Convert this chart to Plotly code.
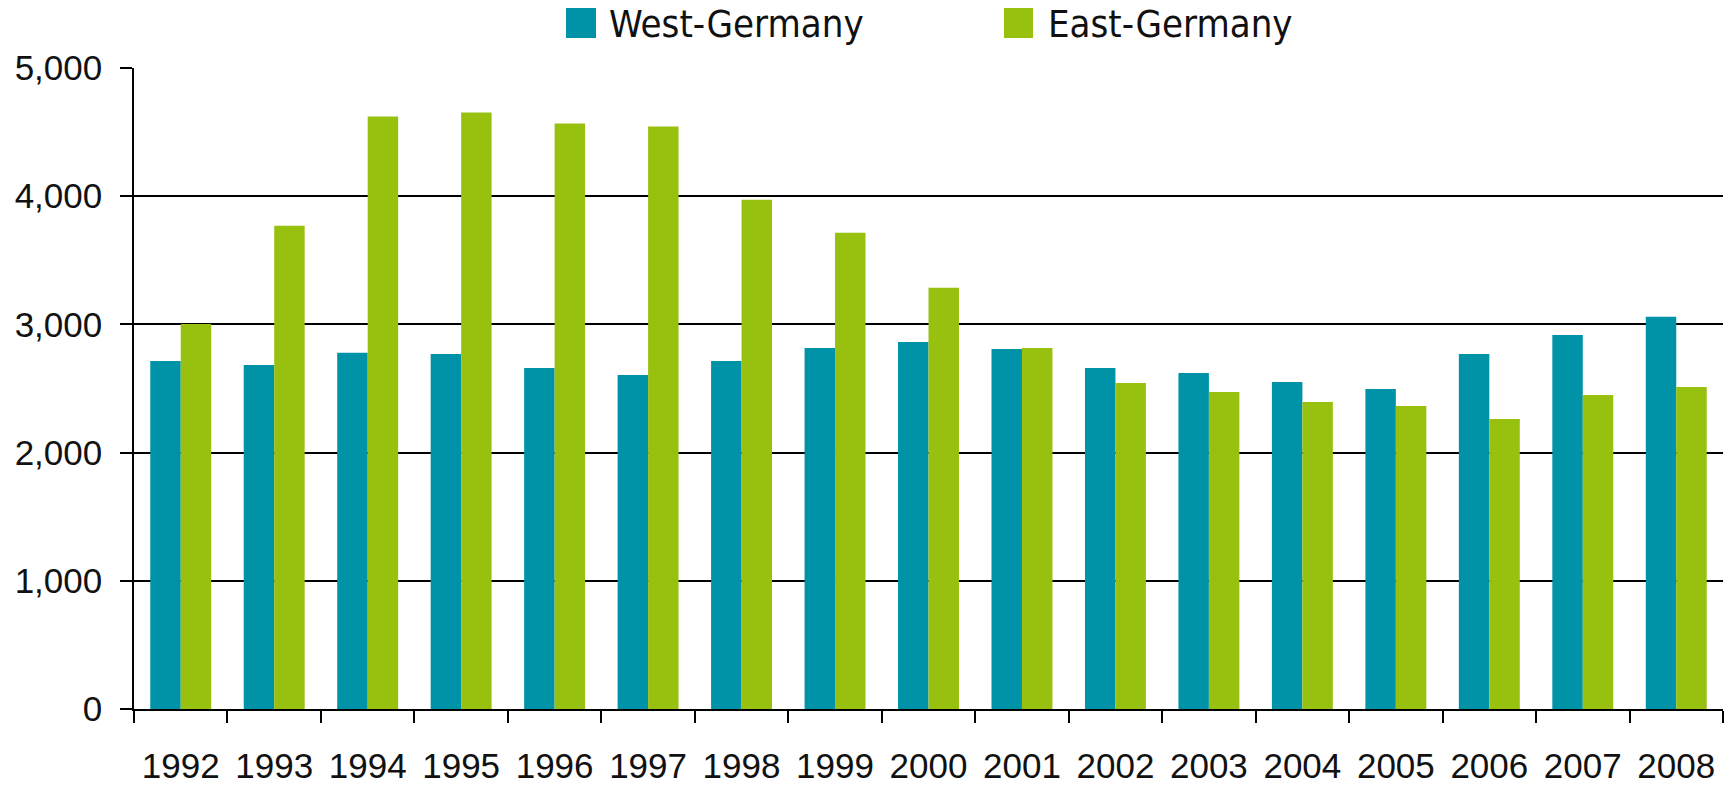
import plotly.graph_objects as go

years = ["1992", "1993", "1994", "1995", "1996", "1997", "1998", "1999", "2000",
         "2001", "2002", "2003", "2004", "2005", "2006", "2007", "2008"]
west_germany = [2715, 2684, 2778, 2770, 2660, 2605, 2715, 2816, 2863,
                2809, 2660, 2621, 2551, 2496, 2770, 2918, 3059]
east_germany = [3004, 3770, 4621, 4653, 4567, 4543, 3973, 3715, 3285,
                2816, 2543, 2473, 2395, 2363, 2262, 2449, 2512]
y_ticks = [0, 1000, 2000, 3000, 4000, 5000]
y_tick_labels = ["0", "1,000", "2,000", "3,000", "4,000", "5,000"]
series_names = ["West-Germany", "East-Germany"]

TEAL = "#0093A7"
GREEN = "#98C00F"
TICK_FONT = dict(family="Liberation Sans Narrow, Liberation Sans, Arial, sans-serif",
                 size=35, color="#111111")
LEGEND_FONT = dict(family="DejaVu Sans Condensed, DejaVu Sans, sans-serif", size=38, color="#111111")

fig = go.Figure()
fig.add_trace(go.Bar(x=years, y=west_germany, name=series_names[0],
                     marker=dict(color=TEAL, line=dict(width=0)), showlegend=False))
fig.add_trace(go.Bar(x=years, y=east_germany, name=series_names[1],
                     marker=dict(color=GREEN, line=dict(width=0)), showlegend=False))

W, H = 1725, 788
L, R, T, B = 134, 2, 68, 79
pw, ph = W - L - R, H - T - B

def px_x(x):
    return (x - L) / pw

def px_y(y):
    return (H - B - y) / ph

# manual legend (large square swatches)
legend_items = [(series_names[0], TEAL, 566, 596, 607), (series_names[1], GREEN, 1004, 1033, 1046)]
for name, col, x0, x1, tx in legend_items:
    fig.add_shape(type="rect", xref="paper", yref="paper",
                  x0=px_x(x0), x1=px_x(x1), y0=px_y(38), y1=px_y(8),
                  fillcolor=col, line=dict(width=0))
    fig.add_annotation(text=name, xref="paper", yref="paper", x=px_x(tx), y=px_y(24),
                       xanchor="left", yanchor="middle", showarrow=False, font=LEGEND_FONT)

fig.update_layout(
    width=W, height=H,
    margin=dict(l=L, r=R, t=T, b=B, pad=0, autoexpand=False),
    paper_bgcolor="white", plot_bgcolor="white",
    barmode="group", bargap=0.348, bargroupgap=0,
    showlegend=False,
)
fig.update_xaxes(
    type="category", showgrid=False, showline=True, linecolor="black", linewidth=1.5,
    ticks="outside", ticklen=12, tickwidth=1.5, tickcolor="black", tickson="boundaries",
    tickfont=TICK_FONT, ticklabelstandoff=25, tickangle=0, automargin=False,
)
fig.update_yaxes(
    range=[0, 5000], tickvals=y_ticks, ticktext=y_tick_labels,
    showgrid=True, gridcolor="black", gridwidth=1.5,
    showline=True, linecolor="black", linewidth=1.5,
    ticks="outside", ticklen=12, tickwidth=1.5, tickcolor="black",
    tickfont=TICK_FONT, ticklabelstandoff=11, zeroline=False, automargin=False,
)

fig.write_html(
    "out.html",
    config={"displayModeBar": False},
    post_script="document.body.style.margin='0';document.body.style.overflow='hidden';",
)
